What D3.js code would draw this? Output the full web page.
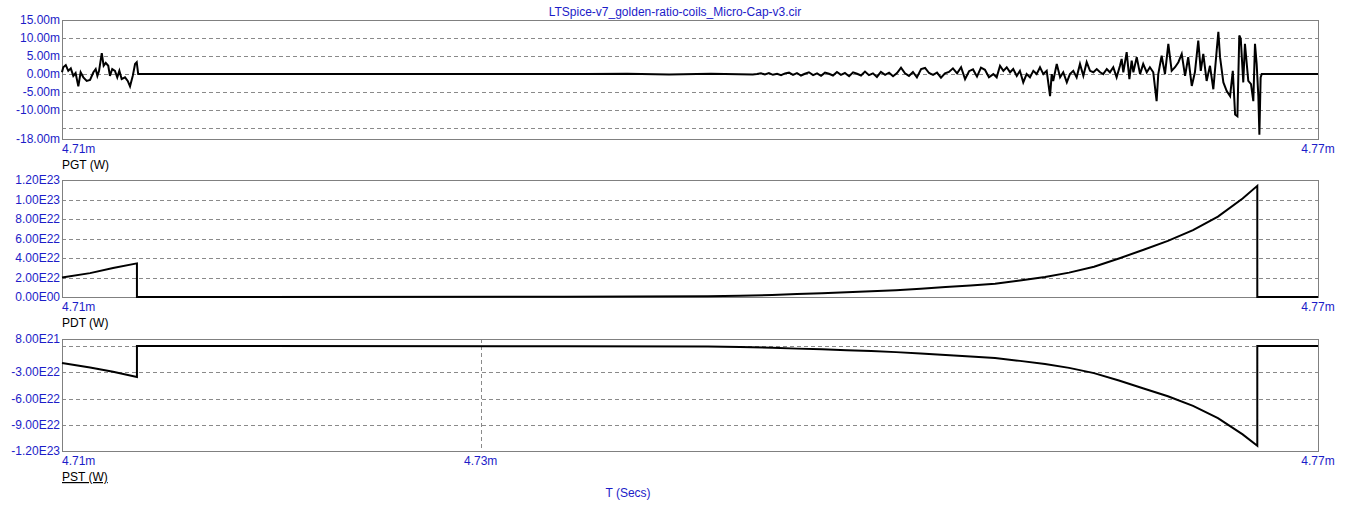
<!DOCTYPE html>
<html>
<head>
<meta charset="utf-8">
<script src="https://cdn.jsdelivr.net/npm/d3@7"></script>
<style>
  body { margin: 0; background: #fff; }
  svg { display: block; font-family: "Liberation Sans", Arial, sans-serif; font-size: 12px; }
</style>
</head>
<body>
<svg width="1353" height="513"></svg>
<script>
// chart values
const title = 'LTSpice-v7_golden-ratio-coils_Micro-Cap-v3.cir';
const timeDomain = [4.71, 4.77];          // ms
const timeTicks = ['4.71m', '4.73m', '4.77m'];

// PGT (W) in mW: [time ms, value mW]
const pgtPoints = [
  [4.71000, 0.5], [4.71006, 1.9], [4.71018, 2.5], [4.71030, 0.9], [4.71042, 1.6], [4.71054, -0.5],
  [4.71065, 0.3], [4.71078, -3.4], [4.71089, 0.5], [4.71102, -0.9], [4.71118, -1.9], [4.71134, -1.6],
  [4.71150, 0.5], [4.71161, 1.4], [4.71169, -0.5], [4.71177, 0.9], [4.71190, 5.8], [4.71199, 2.3],
  [4.71209, 3.1], [4.71221, 2.3], [4.71229, -0.5], [4.71240, 1.4], [4.71253, 0.9], [4.71264, -0.9],
  [4.71274, 0.9], [4.71285, -1.4], [4.71301, -0.9], [4.71314, -1.9], [4.71325, -3.4], [4.71338, -0.5],
  [4.71349, 2.8], [4.71357, 3.3], [4.71364, 0],
  [4.73500, 0], [4.73700, 0.1], [4.73900, -0.1], [4.74100, 0.1], [4.74300, -0.1],
  [4.74320, 0], [4.74339, 0.2], [4.74358, -0.1], [4.74377, 0.3], [4.74396, -0.2], [4.74416, 0.1],
  [4.74435, -0.3], [4.74454, 0.2], [4.74473, 0.4], [4.74492, -0.2], [4.74511, 0.3], [4.74530, -0.4],
  [4.74549, 0.1], [4.74568, 0.5], [4.74588, -0.3], [4.74607, 0.2], [4.74626, -0.5], [4.74645, 0.4],
  [4.74664, 0.1], [4.74683, -0.4], [4.74702, 0.6], [4.74721, -0.2], [4.74740, 0.3], [4.74760, -0.6],
  [4.74779, 0.5], [4.74798, 0.1], [4.74817, -0.4], [4.74836, 0.7], [4.74855, -0.3], [4.74874, 0.2],
  [4.74893, -0.8], [4.74912, 0.6], [4.74932, -0.2], [4.74951, 0.4], [4.74970, -0.6], [4.74989, 0.3],
  [4.75008, 1.8], [4.75027, 0.2], [4.75046, -0.5], [4.75065, 0.6], [4.75084, -0.9], [4.75104, 1.4],
  [4.75123, 1.7], [4.75142, 0.3], [4.75161, -0.2], [4.75180, 0.4], [4.75199, -1.0], [4.75218, 0.2],
  [4.75237, 0.6], [4.75256, 1.6], [4.75276, 0.2], [4.75295, 1.9], [4.75314, -1.4], [4.75333, 0.8],
  [4.75352, 1.3], [4.75371, -0.7], [4.75390, 1.8], [4.75409, 1.2], [4.75428, -0.9],
  [4.75449, 0], [4.75465, -0.9], [4.75481, 2.3], [4.75497, 0.9], [4.75513, 1.9], [4.75529, 0.5],
  [4.75544, 1.4], [4.75561, -0.5], [4.75576, 0.9], [4.75592, -2.3], [4.75608, 0], [4.75624, -0.9],
  [4.75640, 0.9], [4.75656, 0], [4.75672, 1.9], [4.75688, 0], [4.75704, 0.9], [4.75720, -6.1],
  [4.75728, 0], [4.75735, -1.9], [4.75752, 2.8], [4.75768, -0.9], [4.75783, 0.5], [4.75800, -2.3],
  [4.75815, 0], [4.75831, 0.9], [4.75847, -0.9], [4.75863, 2.8], [4.75879, -0.5], [4.75895, 3.3],
  [4.75911, 0.9], [4.75927, 0.5], [4.75943, 1.4], [4.75959, 0.5], [4.75974, 0], [4.75991, 1.4],
  [4.76006, 0.5], [4.76022, 1.9], [4.76038, -0.9], [4.76054, 2.3], [4.76062, 4.2], [4.76070, 0.5],
  [4.76086, 6.1], [4.76099, -1.4], [4.76110, 3.7], [4.76118, 0.5], [4.76134, 4.7], [4.76150, 0],
  [4.76165, 2.8], [4.76182, 0.5], [4.76197, 1.9], [4.76213, 0.5], [4.76229, -7.5], [4.76237, 0],
  [4.76253, 5.1], [4.76269, 0], [4.76285, 8.4], [4.76301, 0.9], [4.76317, 1.9], [4.76333, 3.3],
  [4.76349, 5.6], [4.76365, -0.5], [4.76380, 4.7], [4.76397, -3.3], [4.76412, 0.5], [4.76428, 9.3],
  [4.76440, 0.9], [4.76452, 5.6], [4.76468, -1.9], [4.76484, 2.3], [4.76500, -4.2], [4.76516, 6.5],
  [4.76524, 11.7], [4.76532, 4.7], [4.76548, -2.3], [4.76564, -4.7], [4.76580, -6.1], [4.76593, 0.9],
  [4.76604, -11.2], [4.76615, -11.7], [4.76624, 10.7], [4.76631, 9.8], [4.76643, -2.3], [4.76651, 8.4],
  [4.76667, -1.9], [4.76680, -2.8], [4.76691, -7.5], [4.76699, 8.4], [4.76707, 2.8], [4.76715, -6.1],
  [4.76720, -16.8], [4.76726, -0.9], [4.76731, 0], [4.77000, 0]
];
const pgtTickValues = [15, 10, 5, 0, -5, -10, -18];
const pgtTickLabels = ['15.00m', '10.00m', '5.00m', '0.00m', '-5.00m', '-10.00m', '-18.00m'];
const pgtGrid = [10, 5, 0, -5, -10, -15];

// PDT (W): [time ms, value W]
const pdtPoints = [
  [4.71000, 2.00e22], [4.71134, 2.45e22], [4.71244, 2.97e22], [4.71358, 3.45e22], [4.71358, 0],
  [4.73400, 0.02e22], [4.74086, 0.07e22], [4.74239, 0.12e22], [4.74392, 0.20e22], [4.74511, 0.30e22],
  [4.74630, 0.38e22], [4.74748, 0.48e22], [4.74866, 0.58e22], [4.74984, 0.69e22], [4.75102, 0.85e22],
  [4.75221, 1.03e22], [4.75340, 1.19e22], [4.75457, 1.37e22], [4.75576, 1.70e22], [4.75696, 2.05e22],
  [4.75811, 2.50e22], [4.75930, 3.10e22], [4.76049, 3.95e22], [4.76167, 4.85e22], [4.76283, 5.75e22],
  [4.76403, 6.85e22], [4.76522, 8.25e22], [4.76640, 10.1e22], [4.76710, 11.4e22], [4.76710, 0],
  [4.77000, 0]
];
const pdtTickValues = [1.2e23, 1.0e23, 8e22, 6e22, 4e22, 2e22, 0];
const pdtTickLabels = ['1.20E23', '1.00E23', '8.00E22', '6.00E22', '4.00E22', '2.00E22', '0.00E00'];
const pdtGrid = [1.0e23, 8e22, 6e22, 4e22, 2e22];

// PST (W): [time ms, value W]
const pstPoints = [
  [4.71000, -1.93e22], [4.71134, -2.45e22], [4.71244, -2.95e22], [4.71358, -3.54e22], [4.71358, 0],
  [4.73400, -0.02e22], [4.74086, -0.07e22], [4.74239, -0.12e22], [4.74392, -0.20e22], [4.74511, -0.30e22],
  [4.74630, -0.38e22], [4.74748, -0.48e22], [4.74866, -0.58e22], [4.74984, -0.70e22], [4.75102, -0.85e22],
  [4.75221, -1.03e22], [4.75340, -1.19e22], [4.75457, -1.38e22], [4.75576, -1.70e22], [4.75696, -2.05e22],
  [4.75811, -2.50e22], [4.75930, -3.10e22], [4.76049, -3.95e22], [4.76167, -4.85e22], [4.76283, -5.75e22],
  [4.76403, -6.85e22], [4.76522, -8.25e22], [4.76640, -10.1e22], [4.76710, -11.4e22], [4.76710, 0],
  [4.77000, 0]
];
const pstTickValues = [8e21, -3e22, -6e22, -9e22, -1.2e23];
const pstTickLabels = ['8.00E21', '-3.00E22', '-6.00E22', '-9.00E22', '-1.20E23'];
const pstGrid = [0, -3e22, -6e22, -9e22];

const blue = '#1c1cc8';
const left = 62, right = 1318;

const panels = [
  { name: 'PGT (W)', top: 20, bottom: 139, domain: [-18, 15], points: pgtPoints,
    ticks: pgtTickValues, labels: pgtTickLabels, grid: pgtGrid, xTicks: [0, 2] },
  { name: 'PDT (W)', top: 180, bottom: 297, domain: [0, 1.2e23], points: pdtPoints,
    ticks: pdtTickValues, labels: pdtTickLabels, grid: pdtGrid, xTicks: [0, 2] },
  { name: 'PST (W)', top: 339, bottom: 451, domain: [-1.2e23, 8e21], points: pstPoints,
    ticks: pstTickValues, labels: pstTickLabels, grid: pstGrid, xTicks: [0, 1, 2], underline: true }
];
const xTickTimes = [4.71, 4.73, 4.77];

const svg = d3.select('svg');
const x = d3.scaleLinear().domain(timeDomain).range([left, right]);

svg.append('text')
  .attr('x', 675).attr('y', 16)
  .attr('text-anchor', 'middle')
  .attr('fill', blue)
  .text(title);

panels.forEach(p => {
  const y = d3.scaleLinear().domain(p.domain).range([p.bottom, p.top]);
  const g = svg.append('g');

  // dashed grid
  g.selectAll('line.grid')
    .data(p.grid)
    .enter()
    .append('line')
    .attr('x1', left).attr('x2', right)
    .attr('y1', d => Math.round(y(d)) + 0.5).attr('y2', d => Math.round(y(d)) + 0.5)
    .attr('stroke', '#8a8a8a')
    .attr('stroke-dasharray', '4,3');

  // vertical grid only at inner time ticks
  g.selectAll('line.vgrid')
    .data(p.xTicks.filter(i => i > 0 && i < xTickTimes.length - 1).map(i => xTickTimes[i]))
    .enter()
    .append('line')
    .attr('x1', d => Math.round(x(d)) + 0.5).attr('x2', d => Math.round(x(d)) + 0.5)
    .attr('y1', p.top).attr('y2', p.bottom)
    .attr('stroke', '#8a8a8a')
    .attr('stroke-dasharray', '4,3');

  g.append('rect')
    .attr('x', left + 0.5).attr('y', p.top + 0.5)
    .attr('width', right - left).attr('height', p.bottom - p.top)
    .attr('fill', 'none')
    .attr('stroke', '#808080');

  // y tick labels
  g.selectAll('text.ytick')
    .data(p.ticks)
    .enter()
    .append('text')
    .attr('x', left - 2)
    .attr('y', d => y(d))
    .attr('dy', '0.35em')
    .attr('text-anchor', 'end')
    .attr('fill', blue)
    .text((d, i) => p.labels[i]);

  // time tick labels
  g.selectAll('text.xtick')
    .data(p.xTicks)
    .enter()
    .append('text')
    .attr('x', i => x(xTickTimes[i]))
    .attr('y', p.bottom + 14)
    .attr('text-anchor', i => i === 0 ? 'start' : 'middle')
    .attr('fill', blue)
    .text(i => timeTicks[i]);

  g.append('text')
    .attr('x', left)
    .attr('y', p.bottom + 30)
    .attr('fill', '#000')
    .attr('text-decoration', p.underline ? 'underline' : null)
    .text(p.name);

  const line = d3.line()
    .x(d => x(d[0]))
    .y(d => y(d[1]));

  g.append('path')
    .datum(p.points)
    .attr('d', line)
    .attr('fill', 'none')
    .attr('stroke', '#000')
    .attr('stroke-width', 2)
    .attr('stroke-linejoin', 'miter');
});

svg.append('text')
  .attr('x', 628).attr('y', 497)
  .attr('text-anchor', 'middle')
  .attr('fill', blue)
  .text('T (Secs)');
</script>
</body>
</html>
